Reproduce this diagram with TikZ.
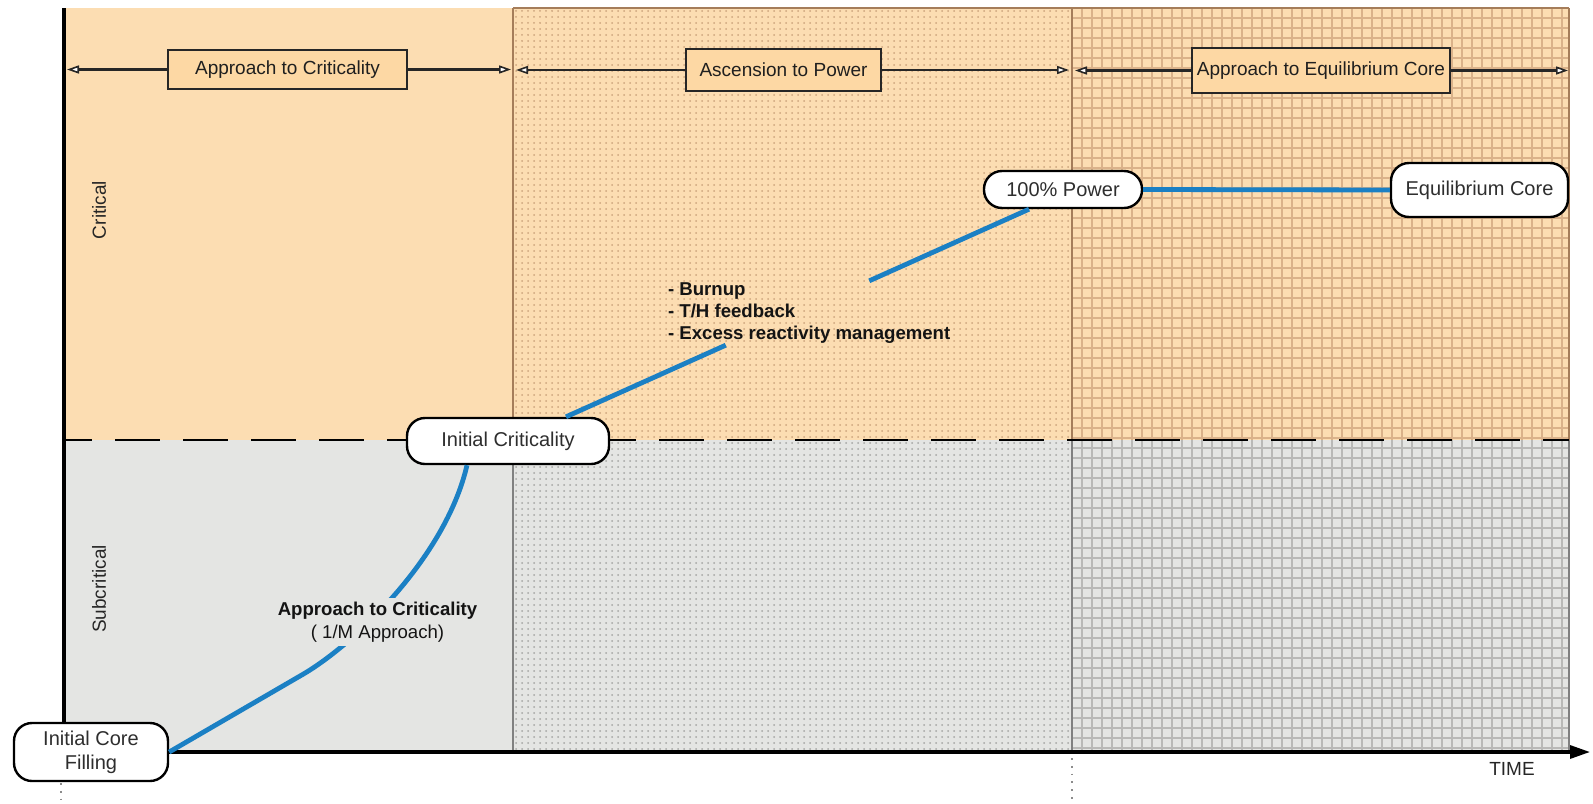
\documentclass[tikz,border=0pt]{standalone}
\usepackage{fontspec}
\setmainfont{Liberation Sans}
\usetikzlibrary{patterns,arrows.meta,calc}
\definecolor{peach}{RGB}{252,221,178}
\definecolor{peachdot}{RGB}{205,165,125}
\definecolor{peachgrid}{RGB}{218,178,138}
\definecolor{grayb}{RGB}{228,229,227}
\definecolor{graydot}{RGB}{165,165,163}
\definecolor{graygrid}{RGB}{185,185,183}
\definecolor{hdrfill}{RGB}{253,216,164}
\definecolor{curvecol}{RGB}{27,128,196}
\definecolor{colline}{RGB}{165,125,90}
\begin{document}
\begin{tikzpicture}[x=0.5pt,y=-0.5pt,
  stnode/.style={draw=black, line width=1.2pt, fill=white, rounded corners=9pt, text=black!82, font=\fontsize{10}{12}\selectfont, inner sep=0pt, align=center},
  hdr/.style={draw=black!85, line width=0.8pt, fill=hdrfill, text=black!88, font=\fontsize{9.5}{11}\selectfont, inner sep=0pt},
  harrow/.style={line width=1.1pt, black!85, -{Triangle[length=6pt,width=4pt,fill=white,line width=0.8pt]}},
  bluecurve/.style={curvecol, line width=2.4pt},
  axisline/.style={line width=1.6pt, black},
  lbl/.style={font=\fontsize{9.5}{11}\selectfont, text=black!85},
  boldlbl/.style={font=\fontsize{9.3}{11.2}\selectfont\bfseries, text=black!92},
  vdots/.style={black!45, line width=0.9pt, dash pattern=on 0.9pt off 3pt},
  gridu/.style={peachgrid, line width=0.6pt},
  gridl/.style={graygrid, line width=0.6pt},
  colu/.style={colline, line width=0.7pt},
  coll/.style={black!50, line width=0.7pt}
]
\useasboundingbox (0,0) rectangle (1593,803);
% backgrounds
\fill[peach] (64,8) rectangle (1569,440);
\fill[grayb] (64,440) rectangle (1569,752);
\fill[pattern=dots, pattern color=peachdot] (513,8) rectangle (1072,440);
\fill[pattern=dots, pattern color=graydot] (513,440) rectangle (1072,752);
\foreach \x in {1082,1092,...,1562} {\draw[gridu] (\x,8) -- (\x,440); \draw[gridl] (\x,440) -- (\x,752);}
\foreach \y in {18,28,...,438} \draw[gridu] (1072,\y) -- (1569,\y);
\foreach \y in {448,458,...,748} \draw[gridl] (1072,\y) -- (1569,\y);
% column borders
\draw[colu] (513,8) -- (1569,8);
\foreach \x in {513,1072,1569} {\draw[colu] (\x,8) -- (\x,440); \draw[coll] (\x,440) -- (\x,752);}
% critical line
\draw[black, line width=1.1pt, dash pattern=on 22.5pt off 11.5pt, dash phase=8.5pt] (64,440) -- (1569,440);
% axes
\coordinate (ytop) at (64,8);
\coordinate (orig) at (64,752);
\coordinate (xend) at (1590,752);
\draw[axisline] (ytop) -- (orig);
\draw[axisline, -{Triangle[length=10pt,width=6.5pt]}] (orig) -- (xend);
% dotted markers
\coordinate (d1a) at (61,783); \coordinate (d1b) at (61,803);
\coordinate (d2a) at (1072,758); \coordinate (d2b) at (1072,800);
\draw[vdots] (d1a) -- (d1b);
\draw[vdots] (d2a) -- (d2b);
% header boxes and arrows
\node[hdr, minimum width=119.5pt, minimum height=19.5pt] (h1) at (287.5,69.5) {Approach to Criticality};
\node[hdr, minimum width=97.5pt, minimum height=21pt] (h2) at (783.5,70) {Ascension to Power};
\node[hdr, minimum width=129pt, minimum height=22.5pt] (h3) at (1321,70.5) {Approach to Equilibrium Core};
\coordinate (a1l) at (67,69.5); \coordinate (a1r) at (511,69.5);
\coordinate (a2l) at (516,70); \coordinate (a2r) at (1069,70);
\coordinate (a3l) at (1075,70.5); \coordinate (a3r) at (1568,70.5);
\draw[harrow] (h1.west) -- (a1l);
\draw[harrow] (h1.east) -- (a1r);
\draw[harrow] (h2.west) -- (a2l);
\draw[harrow] (h2.east) -- (a2r);
\draw[harrow] (h3.west) -- (a3l);
\draw[harrow] (h3.east) -- (a3r);
% axis labels
\node[lbl, rotate=90] (lcrit) at (99,210) {Critical};
\node[lbl, rotate=90] (lsub) at (99,589) {Subcritical};
\node[lbl] (ltime) at (1512,769) {TIME};
% state nodes
\node[stnode, minimum width=77pt, minimum height=29pt] (icf) at (91,752) {Initial Core\\Filling};
\node[stnode, minimum width=101pt, minimum height=23pt] (ic) at (508,441) {Initial Criticality};
\node[stnode, minimum width=79pt, minimum height=18.5pt] (pw) at (1063,189.5) {100\% Power};
\node[stnode, minimum width=88.5pt, minimum height=27pt] (eq) at (1479.5,190) {Equilibrium Core};
% blue curves
\draw[bluecurve] (icf.east) -- (300,676) .. controls (350,648) and (445,560) .. ([xshift=-20.5pt]ic.south);
\node[boldlbl, fill=grayb, align=center, inner sep=2pt] (lappr) at (377.5,622) {Approach to Criticality\\\mdseries ( 1/M Approach)};
\coordinate (s2a) at ([xshift=29pt]ic.north);
\coordinate (s2b) at ([xshift=-17pt]pw.south);
\draw[bluecurve] (s2a) -- ($(s2a)!0.345!(s2b)$);
\draw[bluecurve] ($(s2a)!0.655!(s2b)$) -- (s2b);
\draw[bluecurve] (pw.east) -- (eq.west);
\node[boldlbl, align=left, anchor=west] (lburn) at (661,313) {- Burnup\\- T/H feedback\\- Excess reactivity management};
\end{tikzpicture}
\end{document}
